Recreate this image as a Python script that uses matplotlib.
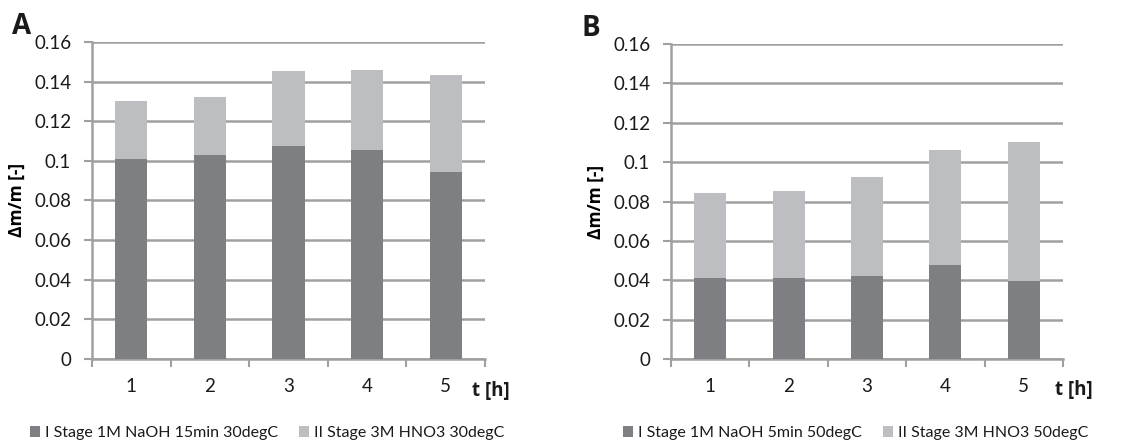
import numpy as np
import matplotlib
matplotlib.use("Agg")
import matplotlib.pyplot as plt
from matplotlib.ticker import FixedLocator, FuncFormatter

# ─── data ────────────────────────────────────────────────────────
hours = ["1", "2", "3", "4", "5"]

a_stage1 = [0.101, 0.103, 0.1075, 0.1053, 0.0945]
a_total = [0.130, 0.132, 0.1455, 0.1459, 0.1433]
a_stage2 = [t - s for t, s in zip(a_total, a_stage1)]

b_stage1 = [0.0413, 0.0413, 0.0422, 0.0477, 0.0396]
b_total = [0.0842, 0.0853, 0.0924, 0.1062, 0.1104]
b_stage2 = [t - s for t, s in zip(b_total, b_stage1)]

a_labels = ["I Stage 1M NaOH 15min 30degC", "II Stage 3M HNO3 30degC"]
b_labels = ["I Stage 1M NaOH 5min 50degC", "II Stage 3M HNO3 50degC"]

# ─── style ───────────────────────────────────────────────────────
DARK = "#7e7f83"
LIGHT = "#bdbec1"
GRID = "#a0a0a0"
TXT = "#1a1a1a"
REG = ["Lato", "DejaVu Sans"]
BOLD = ["Open Sans", "DejaVu Sans"]
plt.rcParams["font.family"] = REG
plt.rcParams["text.color"] = TXT


def panel(fig, rect, s1, s2, labels, letter, leg_x, tx, lx, ly):
    ax = fig.add_axes(rect)
    x = np.arange(len(hours))
    w = 0.41
    h1 = ax.bar(x, s1, w, color=DARK, zorder=3)
    h2 = ax.bar(x, s2, w, bottom=s1, color=LIGHT, zorder=3)

    ax.set_xlim(-0.5, len(hours) - 0.5)
    ax.set_ylim(0, 0.16)
    ax.set_yticks(np.arange(0, 0.161, 0.02))
    ax.yaxis.set_major_formatter(FuncFormatter(lambda v, p: f"{v:.2f}".rstrip("0").rstrip(".") if v else "0"))
    ax.grid(axis="y", color=GRID, lw=1.8, zorder=0)

    ax.set_xticks(x)
    ax.set_xticklabels(hours)
    ax.xaxis.set_minor_locator(FixedLocator(np.arange(-0.5, len(hours), 1.0)))
    ax.tick_params(axis="x", which="major", length=0, pad=14, labelsize=13.5, colors=TXT)
    ax.tick_params(axis="x", which="minor", length=6, width=1.5, color=GRID)
    ax.tick_params(axis="y", length=6, width=1.5, color=GRID, pad=9, labelsize=13.5, labelcolor=TXT)

    for side in ("top", "right"):
        ax.spines[side].set_visible(False)
    for side in ("left", "bottom"):
        ax.spines[side].set_color(GRID)
        ax.spines[side].set_linewidth(1.8)

    ax.set_ylabel("Δm/m [-]", fontsize=12.5, fontweight="bold", family=BOLD, labelpad=6)
    ax.text(tx, -0.1, "t [h]", transform=ax.transAxes, fontsize=13.5,
            fontweight="bold", family=BOLD, ha="left", va="center")
    ax.text(lx, ly, letter, transform=ax.transAxes, fontsize=20,
            fontweight="bold", family=BOLD, ha="center", va="center")

    fig.legend([h1, h2], labels, loc="center", bbox_to_anchor=(leg_x, 0.018),
               ncol=2, frameon=False, fontsize=11.5, handlelength=0.65,
               handleheight=0.65, handletextpad=0.3, columnspacing=1.3)
    return ax


fig = plt.figure(figsize=(11.32, 4.41), dpi=100)
panel(fig, [0.0813, 0.186, 0.3471, 0.719], a_stage1, a_stage2, a_labels, "A",
      0.236, 0.967, -0.18, 1.05)
panel(fig, [0.5928, 0.186, 0.3462, 0.714], b_stage1, b_stage2, b_labels, "B",
      0.756, 0.98, -0.204, 1.05)

fig.savefig("out.png", dpi=100)
